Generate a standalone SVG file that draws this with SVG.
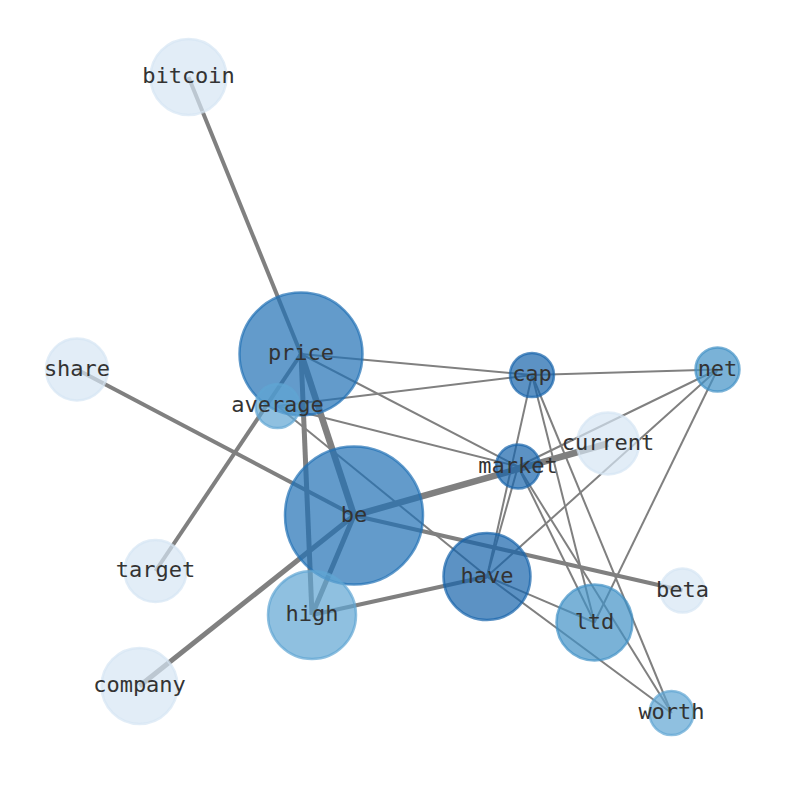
<svg xmlns="http://www.w3.org/2000/svg" width="794" height="790" viewBox="0 0 794 790">
<style>
.e{stroke:#808080;fill:none;stroke-linecap:butt}
.w2{stroke-width:2}
.w4{stroke-width:4}
.w5{stroke-width:5}
.w6{stroke-width:6.5}
.n circle{fill-opacity:0.7;stroke-opacity:0.7;stroke-width:2.5}
.c1 circle{fill:#1764ab;stroke:#1764ab}
.c2 circle{fill:#2171b5;stroke:#2171b5}
.c3 circle{fill:#4292c6;stroke:#4292c6}
.c4 circle{fill:#5fa5d3;stroke:#5fa5d3}
.c5 circle{fill:#d6e6f4;stroke:#d6e6f4}
text{font-family:"DejaVu Sans Mono","Liberation Mono",monospace;font-size:22px;fill:#333;text-anchor:middle;dominant-baseline:central}
</style>
<rect width="794" height="790" fill="#fff"/>
<g id="edges">
<line class="e w4" x1="188.5" y1="77" x2="301" y2="354"/>
<line class="e w6" x1="301" y1="354" x2="354" y2="515.5"/>
<line class="e w5" x1="301" y1="354" x2="312" y2="615"/>
<line class="e w4" x1="155.5" y1="571" x2="301" y2="354"/>
<line class="e w2" x1="301" y1="354" x2="532" y2="375"/>
<line class="e w2" x1="301" y1="354" x2="518" y2="466.5"/>
<line class="e w2" x1="277.5" y1="406" x2="532" y2="375"/>
<line class="e w2" x1="277.5" y1="406" x2="518" y2="466.5"/>
<line class="e w2" x1="277.5" y1="406" x2="487" y2="576.5"/>
<line class="e w4" x1="77" y1="369.5" x2="354" y2="515.5"/>
<line class="e w5" x1="139.5" y1="686" x2="354" y2="515.5"/>
<line class="e w6" x1="354" y1="515.5" x2="608" y2="443.5"/>
<line class="e w4" x1="354" y1="515.5" x2="682.5" y2="590.5"/>
<line class="e w5" x1="354" y1="515.5" x2="312" y2="615"/>
<line class="e w4" x1="312" y1="615" x2="487" y2="576.5"/>
<line class="e w2" x1="532" y1="375" x2="717.5" y2="369.5"/>
<line class="e w2" x1="532" y1="375" x2="487" y2="576.5"/>
<line class="e w2" x1="532" y1="375" x2="594.5" y2="622.5"/>
<line class="e w2" x1="532" y1="375" x2="671.5" y2="713"/>
<line class="e w2" x1="717.5" y1="369.5" x2="518" y2="466.5"/>
<line class="e w2" x1="717.5" y1="369.5" x2="487" y2="576.5"/>
<line class="e w2" x1="717.5" y1="369.5" x2="594.5" y2="622.5"/>
<line class="e w2" x1="518" y1="466.5" x2="487" y2="576.5"/>
<line class="e w2" x1="518" y1="466.5" x2="594.5" y2="622.5"/>
<line class="e w2" x1="518" y1="466.5" x2="671.5" y2="713"/>
<line class="e w2" x1="487" y1="576.5" x2="594.5" y2="622.5"/>
<line class="e w2" x1="487" y1="576.5" x2="671.5" y2="713"/>
</g>
<g id="node-bitcoin" class="n c5"><circle cx="188.5" cy="77" r="38"/></g>
<g id="node-price" class="n c2"><circle cx="301" cy="354" r="61.5"/></g>
<g id="node-average" class="n c4"><circle cx="277.5" cy="406" r="22"/></g>
<g id="node-share" class="n c5"><circle cx="77" cy="369.5" r="31"/></g>
<g id="node-target" class="n c5"><circle cx="155.5" cy="571" r="31"/></g>
<g id="node-company" class="n c5"><circle cx="139.5" cy="686" r="38"/></g>
<g id="node-be" class="n c2"><circle cx="354" cy="515.5" r="69"/></g>
<g id="node-high" class="n c4"><circle cx="312" cy="615" r="44"/></g>
<g id="node-cap" class="n c1"><circle cx="532" cy="375" r="22"/></g>
<g id="node-net" class="n c3"><circle cx="717.5" cy="369.5" r="22"/></g>
<g id="node-current" class="n c5"><circle cx="608" cy="443.5" r="31"/></g>
<g id="node-market" class="n c1"><circle cx="518" cy="466.5" r="22"/></g>
<g id="node-have" class="n c1"><circle cx="487" cy="576.5" r="43.5"/></g>
<g id="node-ltd" class="n c3"><circle cx="594.5" cy="622.5" r="38"/></g>
<g id="node-beta" class="n c5"><circle cx="682.5" cy="590.5" r="22"/></g>
<g id="node-worth" class="n c4"><circle cx="671.5" cy="713" r="22"/></g>
<g id="labels">
<text x="188.5" y="75.5">bitcoin</text>
<text x="301" y="352.5">price</text>
<text x="277.5" y="404.5">average</text>
<text x="77" y="368">share</text>
<text x="155.5" y="569.5">target</text>
<text x="139.5" y="684.5">company</text>
<text x="354" y="514">be</text>
<text x="312" y="613.5">high</text>
<text x="532" y="373.5">cap</text>
<text x="717.5" y="368">net</text>
<text x="608" y="442">current</text>
<text x="518" y="465">market</text>
<text x="487" y="575">have</text>
<text x="594.5" y="621">ltd</text>
<text x="682.5" y="589">beta</text>
<text x="671.5" y="711.5">worth</text>
</g>
</svg>
